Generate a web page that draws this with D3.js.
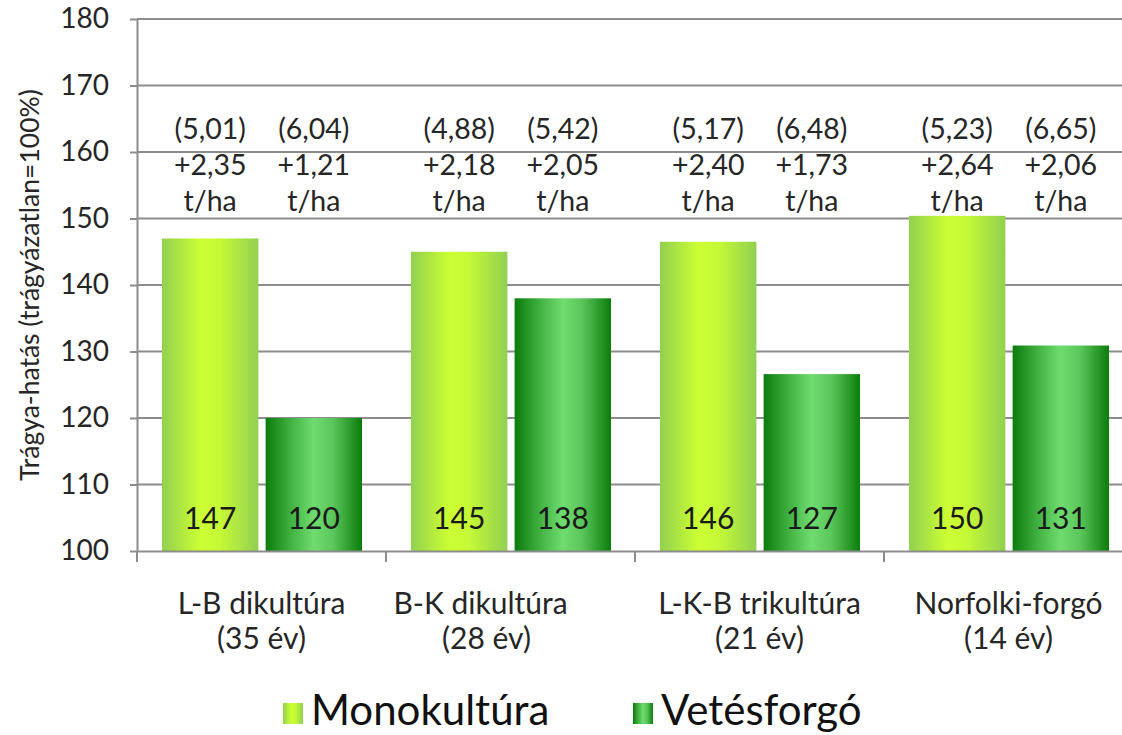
<!DOCTYPE html>
<html>
<head>
<meta charset="utf-8">
<script src="https://cdn.jsdelivr.net/npm/d3@7"></script>
<style>
  html, body { margin: 0; padding: 0; background: #fff; }
  svg { display: block; font-family: Lato, "Open Sans", sans-serif; }
</style>
</head>
<body>
<svg id="chart" width="1122" height="735"></svg>
<script>
// ---- data ----
const categories = ["L-B dikultúra", "B-K dikultúra", "L-K-B trikultúra", "Norfolki-forgó"];
const categoryYears = ["(35 év)", "(28 év)", "(21 év)", "(14 év)"];
const seriesNames = ["Monokultúra", "Vetésforgó"];
const monoValues = [147, 145, 146.5, 150.4];
const vetesValues = [120, 138, 126.6, 130.9];
const monoLabels = ["147", "145", "146", "150"];
const vetesLabels = ["120", "138", "127", "131"];
const monoYield = ["(5,01)", "(4,88)", "(5,17)", "(5,23)"];
const vetesYield = ["(6,04)", "(5,42)", "(6,48)", "(6,65)"];
const monoGain = ["+2,35", "+2,18", "+2,40", "+2,64"];
const vetesGain = ["+1,21", "+2,05", "+1,73", "+2,06"];
const unitLabel = "t/ha";
const yTicks = [100, 110, 120, 130, 140, 150, 160, 170, 180];
const yTitle = "Trágya-hatás (trágyázatlan=100%)";

(function () {
// ---- layout ----
const svg = d3.select("#chart");
const pLeft = 137, pRight = 1133, pTop = 19, pBottom = 551;
const gridColor = "#8c8c8c";
const textColor = "#262626";

const x0 = d3.scaleBand().domain(categories).range([pLeft, pRight]).paddingInner(0).paddingOuter(0);
const bw = x0.bandwidth();
const x1 = d3.scaleBand().domain(seriesNames).range([25, bw - 24]).paddingInner(0.07).paddingOuter(0);
const y = d3.scaleLinear().domain([100, 180]).range([pBottom, pTop]);

// gradients
const defs = svg.append("defs");
function grad(id, stops) {
  const g = defs.append("linearGradient").attr("id", id).attr("x1", "0%").attr("x2", "100%").attr("y1", "0%").attr("y2", "0%");
  stops.forEach(s => g.append("stop").attr("offset", s[0]).attr("stop-color", s[1]));
}
grad("gMono", [["0%", "#92d050"], ["40%", "#ccff33"], ["60%", "#c6f936"], ["100%", "#92d050"]]);
grad("gVetes", [["0%", "#0b7c0b"], ["30%", "#49b94a"], ["50%", "#6fdc6f"], ["70%", "#5bc65b"], ["100%", "#0a7d0a"]]);
const fills = { "Monokultúra": "url(#gMono)", "Vetésforgó": "url(#gVetes)" };

// gridlines
svg.append("g").selectAll("line").data(yTicks.filter(d => d > 100)).join("line")
  .attr("x1", pLeft).attr("x2", pRight)
  .attr("y1", d => y(d)).attr("y2", d => y(d))
  .attr("stroke", gridColor).attr("stroke-width", 2);

// y axis
const yAxis = svg.append("g").attr("transform", `translate(${pLeft},0)`)
  .call(d3.axisLeft(y).tickValues(yTicks).tickSize(7).tickSizeOuter(0).tickPadding(21));
yAxis.select(".domain").attr("stroke", gridColor).attr("stroke-width", 2);
yAxis.selectAll(".tick line").attr("stroke", gridColor).attr("stroke-width", 2);
yAxis.selectAll(".tick text").attr("font-size", 28).attr("fill", textColor).attr("font-family", "Lato");

// y title
svg.append("text")
  .attr("transform", `translate(39,${(pTop + pBottom) / 2}) rotate(-90)`)
  .attr("text-anchor", "middle").attr("font-size", 26.5).attr("fill", textColor)
  .text(yTitle);

// bars
const rows = categories.map((c, i) => ({
  cat: c,
  items: [
    { s: seriesNames[0], v: monoValues[i], lab: monoLabels[i], yl: monoYield[i], gn: monoGain[i] },
    { s: seriesNames[1], v: vetesValues[i], lab: vetesLabels[i], yl: vetesYield[i], gn: vetesGain[i] }
  ]
}));

const groups = svg.append("g").selectAll("g").data(rows).join("g")
  .attr("transform", d => `translate(${x0(d.cat)},0)`);

groups.selectAll("rect").data(d => d.items).join("rect")
  .attr("x", d => x1(d.s)).attr("width", x1.bandwidth())
  .attr("y", d => y(d.v)).attr("height", d => y(100) - y(d.v))
  .attr("fill", d => fills[d.s]);

// value labels inside bars
groups.selectAll("text.val").data(d => d.items).join("text").attr("class", "val")
  .attr("x", d => x1(d.s) + x1.bandwidth() / 2).attr("y", pBottom - 22)
  .attr("text-anchor", "middle").attr("font-size", 30).attr("fill", "#1a1a1a")
  .text(d => d.lab);

// annotations above
const ann = groups.selectAll("g.ann").data(d => d.items).join("g").attr("class", "ann");
[[d => d.yl, 139], [d => d.gn, 175], [d => unitLabel, 211]].forEach(([f, yy]) => {
  ann.append("text")
    .attr("x", d => x1(d.s) + x1.bandwidth() / 2).attr("y", yy)
    .attr("text-anchor", "middle").attr("font-size", 28.5).attr("fill", textColor)
    .text(f);
});

// x axis
const xAxis = svg.append("g").attr("transform", `translate(0,${pBottom})`)
  .call(d3.axisBottom(x0).tickSize(0).tickFormat(""));
xAxis.select(".domain").attr("stroke", gridColor).attr("stroke-width", 2);
// category boundary ticks
const bounds = categories.map(c => x0(c)).concat([pRight]);
svg.append("g").selectAll("line").data(bounds).join("line")
  .attr("x1", d => d).attr("x2", d => d).attr("y1", pBottom).attr("y2", pBottom + 11)
  .attr("stroke", gridColor).attr("stroke-width", 2);

// category labels
const labelShift = [0, -30, 0, 0];
const catG = svg.append("g").selectAll("g").data(categories).join("g");
catG.append("text")
  .attr("x", (d, i) => x0(d) + bw / 2 + labelShift[i]).attr("y", 614)
  .attr("text-anchor", "middle").attr("font-size", 30).attr("fill", textColor)
  .text(d => d);
catG.append("text")
  .attr("x", (d, i) => x0(d) + bw / 2 + labelShift[i] + (i === 1 ? 6 : 0)).attr("y", 649)
  .attr("text-anchor", "middle").attr("font-size", 30).attr("fill", textColor)
  .text((d, i) => categoryYears[i]);

// legend
const legendX = [283, 633];
const leg = svg.append("g").selectAll("g").data(seriesNames).join("g")
  .attr("transform", (d, i) => `translate(${legendX[i]},0)`);
leg.append("rect").attr("x", 0).attr("y", 703).attr("width", 20).attr("height", 21)
  .attr("fill", d => fills[d]);
leg.append("text").attr("x", 28).attr("y", 725).attr("font-size", 42).attr("fill", "#111")
  .text(d => d);
})();
</script>
</body>
</html>
